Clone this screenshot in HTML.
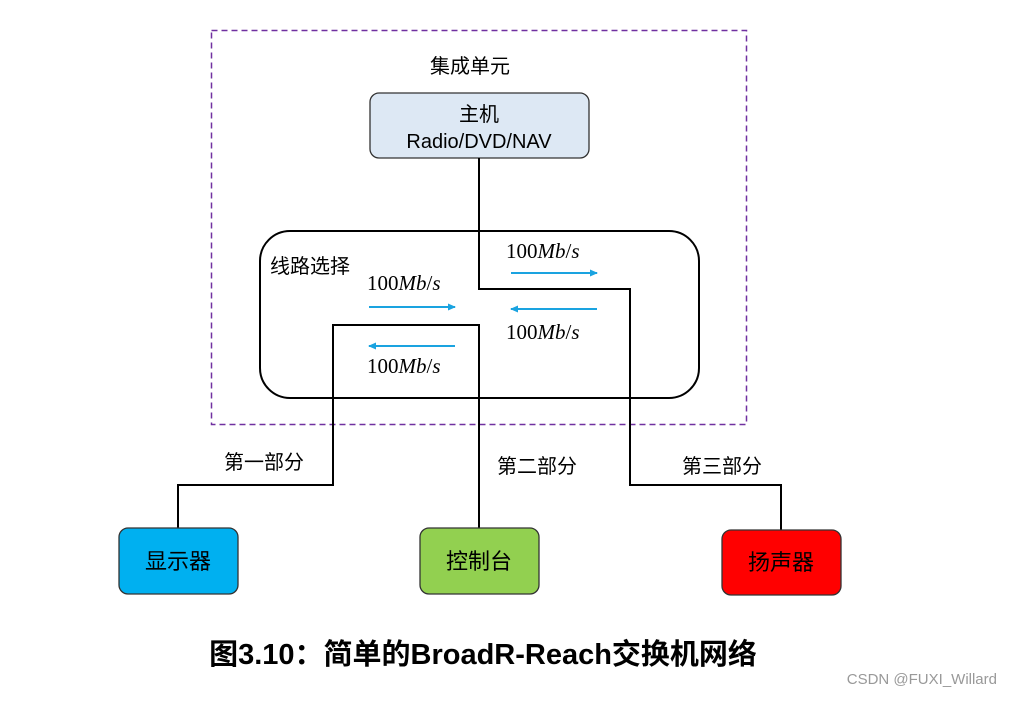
<!DOCTYPE html>
<html><head><meta charset="utf-8"><style>
body{margin:0;background:#fff;}
svg text{font-family:"Liberation Sans","Noto Sans CJK SC",sans-serif;}
.m{font-family:"Liberation Serif","DejaVu Serif",serif;font-size:21px;}
</style></head><body>
<svg width="1011" height="697" viewBox="0 0 1011 697" xmlns="http://www.w3.org/2000/svg">
<defs><marker id="a" markerWidth="8" markerHeight="8" refX="7" refY="4" orient="auto" markerUnits="userSpaceOnUse"><path d="M0,0.5 L8,4 L0,7.5 Z" fill="#1aa3e0"/></marker></defs>
<rect x="211.5" y="30.5" width="535" height="394" fill="none" stroke="#7030a0" stroke-width="1.5" stroke-dasharray="6,4"/>
<text x="470" y="73" font-size="20" text-anchor="middle">集成单元</text>
<rect x="370" y="93" width="219" height="65" rx="9" fill="#dde8f4" stroke="#333" stroke-width="1.3"/>
<text x="479" y="121" font-size="20" text-anchor="middle">主机</text>
<text x="479" y="148" font-size="20" text-anchor="middle">Radio/DVD/NAV</text>
<rect x="260" y="231" width="439" height="167" rx="30" fill="none" stroke="#000" stroke-width="2"/>
<text x="270" y="273" font-size="20">线路选择</text>
<g fill="none" stroke="#000" stroke-width="2">
<polyline points="479,158 479,289 630,289 630,485 781,485 781,530"/>
<polyline points="178,528 178,485 333,485 333,325 479,325 479,528"/>
</g>
<g stroke="#1aa3e0" stroke-width="2" marker-end="url(#a)">
<line x1="369" y1="307" x2="455" y2="307"/>
<line x1="455" y1="346" x2="369" y2="346"/>
<line x1="511" y1="273" x2="597" y2="273"/>
<line x1="597" y1="309" x2="511" y2="309"/>
</g>
<text class="m" x="367" y="290">100<tspan font-style="italic">Mb</tspan>/<tspan font-style="italic">s</tspan></text>
<text class="m" x="506" y="258">100<tspan font-style="italic">Mb</tspan>/<tspan font-style="italic">s</tspan></text>
<text class="m" x="506" y="339">100<tspan font-style="italic">Mb</tspan>/<tspan font-style="italic">s</tspan></text>
<text class="m" x="367" y="373">100<tspan font-style="italic">Mb</tspan>/<tspan font-style="italic">s</tspan></text>
<text x="264" y="469" font-size="20" text-anchor="middle">第一部分</text>
<text x="537" y="473" font-size="20" text-anchor="middle">第二部分</text>
<text x="722" y="473" font-size="20" text-anchor="middle">第三部分</text>
<rect x="119" y="528" width="119" height="66" rx="9" fill="#00b0f0" stroke="#333" stroke-width="1.3"/>
<rect x="420" y="528" width="119" height="66" rx="9" fill="#92d050" stroke="#333" stroke-width="1.3"/>
<rect x="722" y="530" width="119" height="65" rx="9" fill="#ff0000" stroke="#333" stroke-width="1.3"/>
<text x="178" y="569" font-size="22" text-anchor="middle">显示器</text>
<text x="479" y="569" font-size="22" text-anchor="middle">控制台</text>
<text x="781" y="570" font-size="22" text-anchor="middle">扬声器</text>
<text x="483" y="664" font-size="29" font-weight="bold" text-anchor="middle">图3.10：简单的BroadR-Reach交换机网络</text>
<text x="997" y="684" font-size="15" fill="#999" text-anchor="end">CSDN @FUXI_Willard</text>
</svg>
</body></html>
